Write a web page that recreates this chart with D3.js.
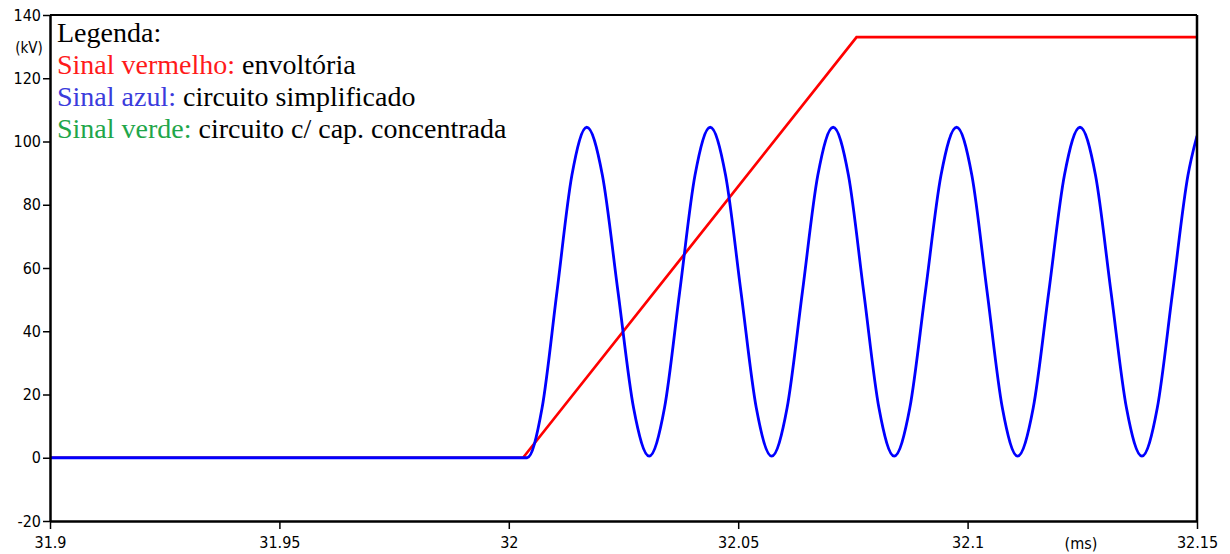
<!DOCTYPE html>
<html><head><meta charset="utf-8">
<script src="https://cdn.jsdelivr.net/npm/d3@7/dist/d3.min.js"></script>
<style>
html,body{margin:0;padding:0;background:#fff;}
svg{display:block;}
.tick text{font-family:"DejaVu Sans Condensed","DejaVu Sans",sans-serif;font-size:16px;fill:#000;}
.lg text, .lg tspan{font-family:"Liberation Serif","Times New Roman",serif;font-size:28px;}
</style></head>
<body><svg id="c" width="1230" height="554"></svg>
<script>
// ---- data ----
const xTicks = [31.9, 31.95, 32, 32.05, 32.1, 32.15];
const xTickLabels = ["31.9", "31.95", "32", "32.05", "32.1", "32.15"];
const yTicks = [-20, 0, 20, 40, 60, 80, 100, 120, 140];
const yTickLabels = ["-20", "0", "20", "40", "60", "80", "100", "120", "140"];

// red: envelope (t in ms, kV)
const redT = [31.9, 32.0031, 32.0758, 32.15];
const redV = [0, 0, 133.0, 133.0];

// blue: simplified circuit (t in ms, kV)
const blueT = [31.9, 32.0040,
  32.00725, 32.0105, 32.01375, 32.0170,
  32.0204, 32.0238, 32.0272, 32.0306,
  32.03393, 32.03725, 32.04058, 32.0439,
  32.04725, 32.0506, 32.05395, 32.0573,
  32.06065, 32.0640, 32.06735, 32.0707,
  32.07403, 32.07735, 32.08068, 32.0840,
  32.0874, 32.0908, 32.0942, 32.0976,
  32.10093, 32.10425, 32.10758, 32.1109,
  32.1143, 32.1177, 32.1211, 32.1245,
  32.12788, 32.13125, 32.13463, 32.1380,
  32.14134, 32.14469, 32.14803, 32.1500];
const blueV = [0, 0,
  15.7, 52.5, 89.3, 104.5,
  89.3, 52.5, 15.7, 0.5,
  15.7, 52.5, 89.3, 104.5,
  89.3, 52.5, 15.7, 0.5,
  15.7, 52.5, 89.3, 104.5,
  89.3, 52.5, 15.7, 0.5,
  15.7, 52.5, 89.3, 104.5,
  89.3, 52.5, 15.7, 0.5,
  15.7, 52.5, 89.3, 104.5,
  89.3, 52.5, 15.7, 0.5,
  15.7, 52.5, 89.3, 101.8];

const legendTitle = "Legenda:";
const legendItems = [
  {key: "Sinal vermelho:", text: " envoltória", color: "#ff1a1a"},
  {key: "Sinal azul:", text: " circuito simplificado", color: "#3b3bdc"},
  {key: "Sinal verde:", text: " circuito c/ cap. concentrada", color: "#1fa64a"}
];
const yUnit = "(kV)";
const xUnit = "(ms)";

// ---- layout ----
const W = 1230, H = 554;
const m = {left: 50, top: 15, right: 33, bottom: 33};
const iw = W - m.left - m.right, ih = H - m.top - m.bottom;

const svg = d3.select("#c");
const x = d3.scaleLinear().domain([31.9, 32.15]).range([m.left, m.left + iw]);
const y = d3.scaleLinear().domain([-20, 140]).range([m.top + ih, m.top]);

svg.append("defs").append("clipPath").attr("id", "clip")
  .append("rect").attr("x", m.left).attr("y", m.top).attr("width", iw).attr("height", ih);

// lines
const redData = redT.map((t, i) => [t, redV[i]]);
const blueData = blueT.map((t, i) => [t, blueV[i]]);

svg.append("path").datum(redData)
  .attr("d", d3.line().x(d => x(d[0])).y(d => y(d[1])).curve(d3.curveLinear))
  .attr("fill", "none").attr("stroke", "#ff0000").attr("stroke-width", 2.7)
  .attr("clip-path", "url(#clip)");

svg.append("path").datum(blueData)
  .attr("d", d3.line().x(d => x(d[0])).y(d => y(d[1])).curve(d3.curveMonotoneX))
  .attr("fill", "none").attr("stroke", "#0000ff").attr("stroke-width", 2.8)
  .attr("stroke-linejoin", "round")
  .attr("clip-path", "url(#clip)");

// frame top/right
svg.append("line").attr("x1", m.left).attr("x2", m.left + iw).attr("y1", m.top).attr("y2", m.top)
  .attr("stroke", "#000").attr("stroke-width", 2);
svg.append("line").attr("x1", m.left + iw).attr("x2", m.left + iw).attr("y1", m.top).attr("y2", m.top + ih)
  .attr("stroke", "#000").attr("stroke-width", 2.5);

// axes
const xAxis = d3.axisBottom(x).tickValues(xTicks).tickSize(8).tickSizeOuter(0)
  .tickFormat((d, i) => xTickLabels[i]);
const gx = svg.append("g").attr("transform", `translate(0,${m.top + ih})`).call(xAxis);
gx.select(".domain").attr("stroke-width", 2.5).attr("stroke", "#000");
gx.selectAll(".tick line").attr("stroke-width", 1.5);
gx.selectAll(".tick text").attr("dy", "0.95em").attr("y", 12);

const yAxis = d3.axisLeft(y).tickValues(yTicks).tickSize(7).tickSizeOuter(0)
  .tickFormat((d, i) => yTickLabels[i]);
const gy = svg.append("g").attr("transform", `translate(${m.left},0)`).call(yAxis);
gy.select(".domain").attr("stroke-width", 2.5).attr("stroke", "#000");
gy.selectAll(".tick line").attr("stroke-width", 1.5);
gy.selectAll(".tick text").attr("x", -9);

// unit labels
svg.append("text").attr("x", 29).attr("y", 53).attr("text-anchor", "middle")
  .style("font-family", '"DejaVu Sans Condensed","DejaVu Sans",sans-serif').style("font-size", "15px")
  .text(yUnit);
svg.append("text").attr("x", 1081).attr("y", 549).attr("text-anchor", "middle")
  .style("font-family", '"DejaVu Sans Condensed","DejaVu Sans",sans-serif').style("font-size", "16px")
  .text(xUnit);

// legend
const lg = svg.append("g").attr("class", "lg");
lg.append("text").attr("x", 57).attr("y", 42).attr("fill", "#000").text(legendTitle);
legendItems.forEach((d, i) => {
  const t = lg.append("text").attr("x", 57).attr("y", 74 + i * 32);
  t.append("tspan").attr("fill", d.color).text(d.key);
  t.append("tspan").attr("fill", "#000").text(d.text);
});
</script>
</body></html>
